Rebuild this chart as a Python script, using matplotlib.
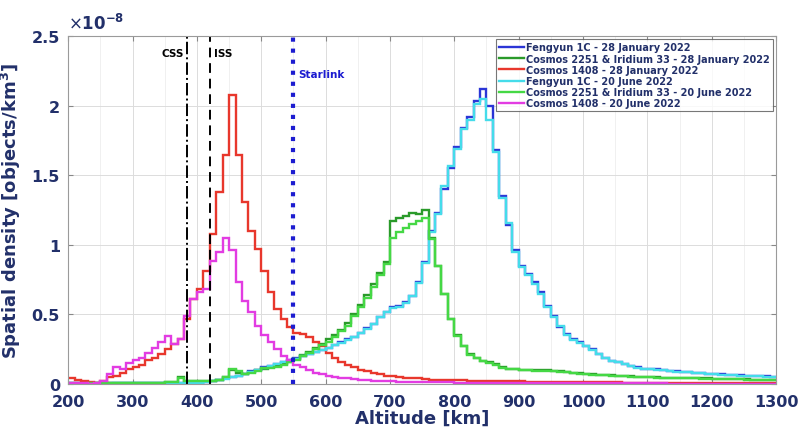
import numpy as np
import matplotlib
matplotlib.use("Agg")
import matplotlib.pyplot as plt
from matplotlib.ticker import FuncFormatter, MultipleLocator

# altitude bins [km], 10 km wide
edges = np.arange(200, 1301, 10)

# spatial density, units of 1e-8 objects/km^3 (one value per 10 km bin, 200..1300)
fengyun_jan = [
    0.004, 0.004, 0.004, 0.004, 0.004, 0.004, 0.004, 0.004, 0.005, 0.005,
    0.005, 0.005, 0.005, 0.006, 0.006, 0.007, 0.008, 0.008, 0.010, 0.010,
    0.010, 0.015, 0.020, 0.030, 0.040, 0.050, 0.060, 0.075, 0.090, 0.100,
    0.120, 0.130, 0.145, 0.160, 0.170, 0.185, 0.200, 0.215, 0.230, 0.245,
    0.260, 0.280, 0.300, 0.320, 0.340, 0.370, 0.400, 0.430, 0.480, 0.520,
    0.550, 0.560, 0.590, 0.635, 0.730, 0.875, 1.100, 1.230, 1.400, 1.550,
    1.700, 1.840, 1.920, 2.035, 2.120, 2.000, 1.680, 1.350, 1.140, 0.960,
    0.850, 0.790, 0.730, 0.660, 0.560, 0.490, 0.410, 0.360, 0.320, 0.300,
    0.275, 0.250, 0.215, 0.190, 0.167, 0.160, 0.145, 0.130, 0.120, 0.110,
    0.110, 0.105, 0.100, 0.095, 0.090, 0.088, 0.085, 0.080, 0.078, 0.075,
    0.072, 0.070, 0.068, 0.065, 0.062, 0.060, 0.058, 0.056, 0.054, 0.052,
]
cosmos_iridium_jan = [
    0.004, 0.004, 0.004, 0.004, 0.005, 0.005, 0.005, 0.005, 0.005, 0.005,
    0.005, 0.006, 0.007, 0.008, 0.010, 0.012, 0.015, 0.050, 0.020, 0.020,
    0.020, 0.022, 0.025, 0.030, 0.050, 0.100, 0.080, 0.070, 0.085, 0.100,
    0.110, 0.120, 0.130, 0.145, 0.160, 0.180, 0.210, 0.230, 0.260, 0.290,
    0.320, 0.350, 0.390, 0.440, 0.500, 0.570, 0.640, 0.720, 0.800, 0.880,
    1.170, 1.190, 1.210, 1.230, 1.220, 1.250, 1.050, 0.850, 0.650, 0.470,
    0.350, 0.275, 0.215, 0.190, 0.167, 0.155, 0.145, 0.120, 0.110, 0.110,
    0.100, 0.100, 0.100, 0.100, 0.100, 0.095, 0.090, 0.085, 0.080, 0.078,
    0.075, 0.070, 0.068, 0.065, 0.062, 0.060, 0.058, 0.055, 0.052, 0.050,
    0.048, 0.047, 0.046, 0.045, 0.044, 0.043, 0.042, 0.041, 0.040, 0.040,
    0.038, 0.037, 0.036, 0.035, 0.034, 0.033, 0.032, 0.031, 0.030, 0.030,
]
cosmos1408_jan = [
    0.040, 0.030, 0.025, 0.015, 0.010, 0.020, 0.050, 0.060, 0.080, 0.110,
    0.120, 0.140, 0.170, 0.190, 0.215, 0.250, 0.290, 0.320, 0.470, 0.610,
    0.680, 0.810, 1.080, 1.380, 1.645, 2.080, 1.645, 1.310, 1.100, 0.970,
    0.810, 0.660, 0.540, 0.470, 0.410, 0.370, 0.360, 0.340, 0.300, 0.270,
    0.220, 0.190, 0.160, 0.140, 0.120, 0.100, 0.090, 0.080, 0.070, 0.060,
    0.055, 0.050, 0.045, 0.040, 0.040, 0.035, 0.030, 0.030, 0.030, 0.028,
    0.027, 0.026, 0.025, 0.024, 0.023, 0.022, 0.021, 0.020, 0.020, 0.019,
    0.018, 0.017, 0.016, 0.016, 0.015, 0.015, 0.014, 0.014, 0.013, 0.013,
    0.012, 0.012, 0.012, 0.011, 0.011, 0.011, 0.010, 0.010, 0.010, 0.010,
    0.010, 0.009, 0.009, 0.009, 0.009, 0.008, 0.008, 0.008, 0.008, 0.008,
    0.007, 0.007, 0.007, 0.007, 0.007, 0.006, 0.006, 0.006, 0.006, 0.006,
]
fengyun_jun = [
    0.003, 0.003, 0.003, 0.003, 0.003, 0.003, 0.003, 0.004, 0.004, 0.004,
    0.004, 0.004, 0.005, 0.005, 0.005, 0.006, 0.007, 0.008, 0.009, 0.010,
    0.010, 0.014, 0.020, 0.028, 0.038, 0.048, 0.058, 0.072, 0.088, 0.100,
    0.118, 0.128, 0.143, 0.158, 0.168, 0.183, 0.198, 0.213, 0.228, 0.243,
    0.258, 0.278, 0.298, 0.318, 0.338, 0.368, 0.398, 0.428, 0.478, 0.515,
    0.545, 0.555, 0.585, 0.630, 0.725, 0.870, 1.090, 1.220, 1.420, 1.570,
    1.690, 1.830, 1.900, 2.010, 2.050, 1.900, 1.670, 1.340, 1.160, 0.950,
    0.840, 0.780, 0.720, 0.650, 0.550, 0.480, 0.420, 0.355, 0.315, 0.295,
    0.270, 0.245, 0.215, 0.188, 0.165, 0.158, 0.143, 0.128, 0.118, 0.108,
    0.106, 0.102, 0.098, 0.093, 0.089, 0.086, 0.083, 0.079, 0.076, 0.073,
    0.070, 0.068, 0.066, 0.063, 0.060, 0.058, 0.056, 0.054, 0.052, 0.050,
]
cosmos_iridium_jun = [
    0.003, 0.003, 0.003, 0.004, 0.004, 0.004, 0.004, 0.005, 0.005, 0.005,
    0.005, 0.006, 0.007, 0.008, 0.009, 0.011, 0.014, 0.045, 0.018, 0.020,
    0.020, 0.022, 0.024, 0.030, 0.050, 0.110, 0.090, 0.075, 0.080, 0.095,
    0.115, 0.115, 0.125, 0.140, 0.155, 0.175, 0.200, 0.225, 0.250, 0.280,
    0.300, 0.340, 0.380, 0.420, 0.490, 0.550, 0.620, 0.700, 0.780, 0.860,
    1.050, 1.090, 1.120, 1.150, 1.170, 1.190, 1.040, 0.850, 0.650, 0.470,
    0.345, 0.270, 0.210, 0.185, 0.165, 0.150, 0.140, 0.118, 0.108, 0.105,
    0.098, 0.098, 0.097, 0.096, 0.095, 0.092, 0.088, 0.083, 0.078, 0.075,
    0.072, 0.068, 0.066, 0.063, 0.060, 0.058, 0.056, 0.053, 0.050, 0.048,
    0.047, 0.046, 0.045, 0.044, 0.043, 0.042, 0.041, 0.040, 0.039, 0.038,
    0.037, 0.036, 0.035, 0.034, 0.033, 0.032, 0.031, 0.030, 0.029, 0.029,
]
cosmos1408_jun = [
    0.010, 0.005, 0.005, 0.003, 0.005, 0.020, 0.070, 0.120, 0.110, 0.150,
    0.170, 0.190, 0.220, 0.260, 0.300, 0.345, 0.290, 0.320, 0.490, 0.610,
    0.660, 0.680, 0.885, 0.945, 1.050, 0.960, 0.730, 0.600, 0.520, 0.420,
    0.350, 0.300, 0.250, 0.200, 0.170, 0.140, 0.120, 0.100, 0.080, 0.070,
    0.060, 0.050, 0.045, 0.040, 0.035, 0.030, 0.028, 0.025, 0.022, 0.020,
    0.018, 0.017, 0.016, 0.015, 0.014, 0.013, 0.012, 0.012, 0.011, 0.011,
    0.010, 0.010, 0.009, 0.009, 0.009, 0.008, 0.008, 0.008, 0.007, 0.007,
    0.007, 0.007, 0.006, 0.006, 0.006, 0.006, 0.006, 0.005, 0.005, 0.005,
    0.005, 0.005, 0.005, 0.005, 0.004, 0.004, 0.004, 0.004, 0.004, 0.004,
    0.004, 0.004, 0.004, 0.003, 0.003, 0.003, 0.003, 0.003, 0.003, 0.003,
    0.003, 0.003, 0.003, 0.003, 0.003, 0.003, 0.003, 0.003, 0.003, 0.003,
]

series = [
    ("Fengyun 1C - 28 January 2022", fengyun_jan, "#2b35d6"),
    ("Cosmos 2251 & Iridium 33 - 28 January 2022", cosmos_iridium_jan, "#2a9a2a"),
    ("Cosmos 1408 - 28 January 2022", cosmos1408_jan, "#e8372c"),
    ("Fengyun 1C - 20 June 2022", fengyun_jun, "#45dcea"),
    ("Cosmos 2251 & Iridium 33 - 20 June 2022", cosmos_iridium_jun, "#45d845"),
    ("Cosmos 1408 - 20 June 2022", cosmos1408_jun, "#e23ce2"),
]

# reference altitudes [km]
css_alt = 385
iss_alt = 420
starlink_alt = 550

navy = "#22306a"

fig = plt.figure(figsize=(7.98, 4.39), dpi=100)
ax = fig.add_axes([0.0855, 0.123, 0.8870, 0.7925])

for label, vals, col in series:
    ax.stairs(vals, edges, color=col, lw=1.7, label=label, baseline=None)

ax.axvline(css_alt, color="black", ls="-.", lw=1.4)
ax.axvline(iss_alt, color="black", ls=(0, (5, 3)), lw=1.4)
ax.axvline(starlink_alt, color="#1c1cd0", ls=":", lw=3.0)

ax.text(css_alt - 6, 2.38, "CSS", ha="right", va="center", fontsize=7.5,
        fontweight="bold", color="black")
ax.text(iss_alt + 7, 2.38, "ISS", ha="left", va="center", fontsize=7.5,
        fontweight="bold", color="black")
ax.text(starlink_alt + 7, 2.23, "Starlink", ha="left", va="center", fontsize=7.5,
        fontweight="bold", color="#1c1cd0")

ax.set_xlim(200, 1300)
ax.set_ylim(0, 2.5)
ax.xaxis.set_major_locator(MultipleLocator(100))
ax.yaxis.set_major_locator(MultipleLocator(0.5))
ax.xaxis.set_minor_locator(MultipleLocator(50))
ax.yaxis.set_major_formatter(FuncFormatter(lambda v, p: "%g" % v))
ax.grid(True, which="major", color="#dcdcdc", lw=0.7)
ax.grid(True, which="minor", axis="x", color="#eeeeee", lw=0.6)
ax.set_axisbelow(True)
ax.tick_params(which="both", direction="in", top=True, right=True,
               color="#888888", labelsize=11.5, labelcolor=navy)
ax.tick_params(axis="x", pad=7)
ax.tick_params(axis="y", pad=6)
ax.tick_params(which="minor", length=0)
for lab in ax.get_xticklabels() + ax.get_yticklabels():
    lab.set_fontweight("bold")
for sp in ax.spines.values():
    sp.set_color("#9a9a9a")
    sp.set_linewidth(0.8)

ax.text(0.0, 1.008, r"$\times\mathbf{10^{-8}}$", transform=ax.transAxes,
        ha="left", va="bottom", fontsize=12, color=navy)

ax.set_xlabel("Altitude [km]", fontsize=13, fontweight="bold", color=navy, labelpad=0)
ax.set_ylabel(r"Spatial density [objects/km$\mathbf{^3}$]", fontsize=13,
              fontweight="bold", color=navy, labelpad=6)

leg = ax.legend(loc="upper right", frameon=True, fancybox=False,
                edgecolor="#555555", handlelength=2.6, handletextpad=0.2,
                labelspacing=0.12, borderpad=0.3, borderaxespad=0.35,
                prop={"weight": "bold", "size": 7})
leg.get_frame().set_linewidth(0.8)
for t in leg.get_texts():
    t.set_color(navy)

fig.savefig("out.png", dpi=100)
